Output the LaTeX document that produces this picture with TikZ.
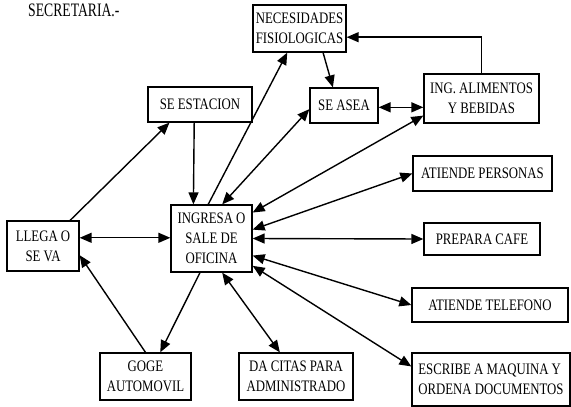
\documentclass[tikz,border=0pt]{standalone}
\usepackage{fontspec}
\setmainfont{Liberation Serif}[FakeStretch=0.8]
\newfontfamily\titlefont{Liberation Serif}[FakeStretch=0.72]
\usetikzlibrary{arrows.meta,calc}

\begin{document}
\begin{tikzpicture}[
  x=1pt, y=-1pt,
  box/.style={draw, line width=1.3pt, align=center, inner sep=2pt, font=\fontsize{16}{20}\selectfont},
  arr/.style={-{Triangle[length=12pt,width=10pt]}, line width=1.4pt},
  dbl/.style={{Triangle[length=12pt,width=10pt]}-{Triangle[length=12pt,width=10pt]}, line width=1.4pt}
]
\useasboundingbox (0,0) rectangle (571,407);
\node[font=\titlefont\fontsize{19}{22}\selectfont, anchor=base west, inner sep=0pt] (titulo) at (28,16) {SECRETARIA.-};

% cajas
\node[box, minimum width=93pt, minimum height=47pt] (nec) at (299.5,28.5) {NECESIDADES\\FISIOLOGICAS};
\node[box, minimum width=104pt, minimum height=35pt] (estacion) at (200,104.5) {SE ESTACION};
\node[box, minimum width=68pt, minimum height=35pt] (asea) at (344,105.5) {SE ASEA};
\node[box, minimum width=115pt, minimum height=49pt] (ing) at (481.5,98.5) {ING. ALIMENTOS\\Y BEBIDAS};
\node[box, minimum width=139pt, minimum height=35pt] (personas) at (482.5,173.5) {ATIENDE PERSONAS};
\node[box, minimum width=116pt, minimum height=32pt] (cafe) at (482,239) {PREPARA CAFE};
\node[box, minimum width=81pt, minimum height=67pt] (ingresa) at (211.5,238.5) {INGRESA O\\SALE DE\\OFICINA};
\node[box, minimum width=72pt, minimum height=50pt] (llega) at (43,246) {LLEGA O\\SE VA};
\node[box, minimum width=156pt, minimum height=34pt] (telefono) at (490,305) {ATIENDE TELEFONO};
\node[box, minimum width=91pt, minimum height=47pt] (goge) at (145.5,376.5) {GOGE\\AUTOMOVIL};
\node[box, minimum width=114pt, minimum height=47pt] (citas) at (296,376.5) {DA CITAS PARA\\ADMINISTRADO};
\node[box, minimum width=158pt, minimum height=53pt, align=left] (escribe) at (491,379.5) {ESCRIBE A MAQUINA Y\\ORDENA DOCUMENTOS};

% flechas
\draw[arr] ($(llega.north west)!0.87!(llega.north east)$) -- ($(estacion.south west)!0.21!(estacion.south east)$);
\draw[arr] ($(estacion.south west)!0.445!(estacion.south east)$) -- ($(ingresa.north west)!0.28!(ingresa.north east)$);
\draw[arr] ($(ingresa.north west)!0.46!(ingresa.north east)$) -- ($(nec.south west)!0.37!(nec.south east)$);
\draw[arr] ($(nec.south west)!0.75!(nec.south east)$) -- ($(asea.north west)!0.34!(asea.north east)$);
\draw[dbl] ($(ingresa.north west)!0.63!(ingresa.north east)$) -- ($(asea.north west)!0.6!(asea.south west)$);
\draw[dbl] ($(asea.north east)!0.55!(asea.south east)$) coordinate (a1) -- (a1 -| ing.west);
\draw[arr] (ing.north) |- ($(nec.north east)!0.68!(nec.south east)$);
\draw[dbl] ($(ingresa.north east)!0.12!(ingresa.south east)$) -- ($(ing.north west)!0.84!(ing.south west)$);
\draw[dbl] ($(ingresa.north east)!0.37!(ingresa.south east)$) -- (personas.west);
\draw[dbl] (ingresa.east) -- (cafe.west);
\draw[dbl] ($(ingresa.north east)!0.75!(ingresa.south east)$) -- (telefono.west);
\draw[dbl] ($(ingresa.north east)!0.9!(ingresa.south east)$) -- ($(escribe.north west)!0.26!(escribe.south west)$);
\draw[dbl] ($(ingresa.south west)!0.63!(ingresa.south east)$) -- ($(citas.north west)!0.36!(citas.north east)$);
\draw[arr] ($(ingresa.south west)!0.36!(ingresa.south east)$) -- ($(goge.north west)!0.66!(goge.north east)$);
\draw[arr] (goge.north) -- ($(llega.north east)!0.68!(llega.south east)$);
\draw[dbl] ($(llega.north east)!0.34!(llega.south east)$) coordinate (l1) -- (l1 -| ingresa.west);
\end{tikzpicture}
\end{document}
